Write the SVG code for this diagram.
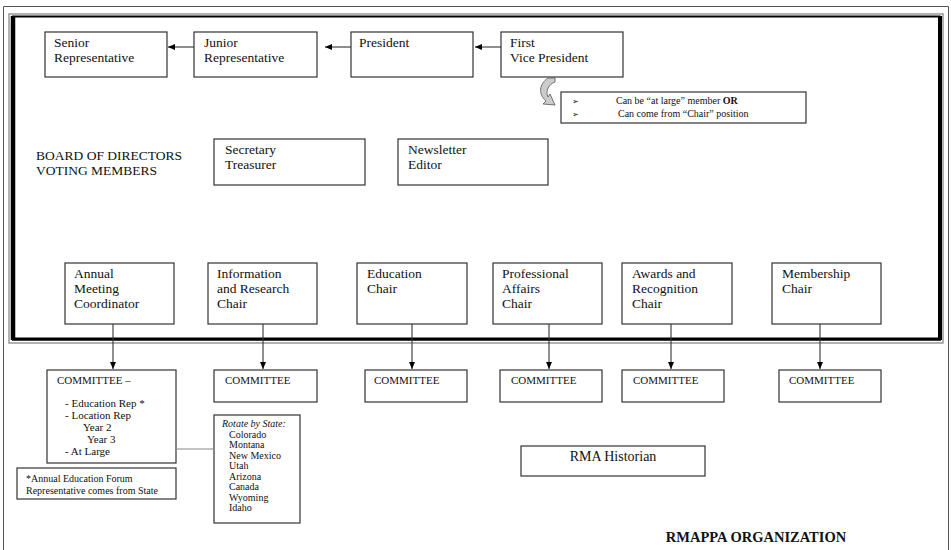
<svg xmlns="http://www.w3.org/2000/svg" width="951" height="550" viewBox="0 0 951 550" font-family="'Liberation Serif', 'DejaVu Serif', serif">
<style>
text{font-family:'Liberation Serif','DejaVu Serif',serif;fill:#111}
.t{font-size:13.5px}
.c{font-size:11px}
.s{font-size:10px}
.n{font-size:10px}
.box{fill:#fff;stroke:#333;stroke-width:1.2}
.ln{stroke:#333;stroke-width:1.1;fill:none}
</style>
<defs>
<marker id="ah" markerWidth="8" markerHeight="8" refX="7" refY="4" orient="auto" markerUnits="userSpaceOnUse">
<path d="M0,1 L7,4 L0,7 Z" fill="#000"/>
</marker>
</defs>
<rect x="0" y="0" width="951" height="550" fill="#fff"/>
<path d="M3.5,552 V6.5 H948.5 V552" fill="none" stroke="#555" stroke-width="1"/>
<g id="frame">
<rect x="9" y="14" width="934" height="329" fill="none" stroke="#999" stroke-width="1.5"/>
<rect x="13" y="16.5" width="926.5" height="323" fill="none" stroke="#000" stroke-width="2"/>
<line x1="13" y1="16" x2="13" y2="340" stroke="#000" stroke-width="4.5"/>
<line x1="940" y1="16" x2="940" y2="340" stroke="#000" stroke-width="4"/>
<line x1="12" y1="339" x2="941" y2="339" stroke="#000" stroke-width="3"/>
</g>
<g id="senior"><rect class="box" x="45" y="32" width="122" height="45"/><text class="t" x="54" y="47">Senior</text><text class="t" x="54" y="62">Representative</text></g>
<g id="junior"><rect class="box" x="194" y="32" width="123" height="45"/><text class="t" x="204" y="47">Junior</text><text class="t" x="204" y="62">Representative</text></g>
<g id="president"><rect class="box" x="351" y="32" width="122" height="45"/><text class="t" x="359" y="47">President</text></g>
<g id="fvp"><rect class="box" x="501" y="32" width="122" height="45"/><text class="t" x="510" y="47">First</text><text class="t" x="510" y="62">Vice President</text></g>
<g id="note"><rect class="box" x="561" y="92" width="245" height="31"/>
<text x="572" y="104" style="font-family:'DejaVu Sans',sans-serif;font-size:8px">➢</text>
<text class="n" x="616" y="104">Can be “at large” member  <tspan font-weight="bold">OR</tspan></text>
<text x="572" y="117" style="font-family:'DejaVu Sans',sans-serif;font-size:8px">➢</text>
<text class="n" x="618" y="117">Can come from “Chair” position</text>
</g>
<g id="board"><text class="t" x="36" y="160">BOARD OF DIRECTORS</text><text class="t" x="36" y="174.5">VOTING MEMBERS</text></g>
<g id="secretary"><rect class="box" x="214" y="139" width="151" height="46"/><text class="t" x="225" y="154">Secretary</text><text class="t" x="225" y="168.5">Treasurer</text></g>
<g id="newsletter"><rect class="box" x="398" y="139" width="150" height="46"/><text class="t" x="408" y="154">Newsletter</text><text class="t" x="408" y="168.5">Editor</text></g>
<g id="annual"><rect class="box" x="65" y="263" width="109" height="61"/><text class="t" x="74" y="278">Annual</text><text class="t" x="74" y="293">Meeting</text><text class="t" x="74" y="308">Coordinator</text></g>
<g id="info"><rect class="box" x="208" y="263" width="109" height="61"/><text class="t" x="217" y="278">Information</text><text class="t" x="217" y="293">and Research</text><text class="t" x="217" y="308">Chair</text></g>
<g id="education"><rect class="box" x="357" y="263" width="110" height="61"/><text class="t" x="367" y="278">Education</text><text class="t" x="367" y="293">Chair</text></g>
<g id="professional"><rect class="box" x="493" y="263" width="109" height="61"/><text class="t" x="502" y="278">Professional</text><text class="t" x="502" y="293">Affairs</text><text class="t" x="502" y="308">Chair</text></g>
<g id="awards"><rect class="box" x="622" y="263" width="110" height="61"/><text class="t" x="632" y="278">Awards and</text><text class="t" x="632" y="293">Recognition</text><text class="t" x="632" y="308">Chair</text></g>
<g id="membership"><rect class="box" x="772" y="263" width="109" height="61"/><text class="t" x="782" y="278">Membership</text><text class="t" x="782" y="293">Chair</text></g>
<g id="committee-annual"><rect class="box" x="47" y="370" width="129" height="93"/>
<text class="c" x="57" y="384">COMMITTEE –</text>
<text class="c" x="65" y="407">- Education Rep *</text>
<text class="c" x="65" y="419">- Location Rep</text>
<text class="c" x="83" y="431">Year 2</text>
<text class="c" x="87" y="443">Year 3</text>
<text class="c" x="65" y="455">- At Large</text>
</g>
<g id="committee-info"><rect class="box" x="214" y="370" width="103" height="32"/><text class="c" x="225" y="384">COMMITTEE</text></g>
<g id="committee-education"><rect class="box" x="365" y="370" width="102" height="32"/><text class="c" x="374" y="384">COMMITTEE</text></g>
<g id="committee-professional"><rect class="box" x="500" y="370" width="102" height="32"/><text class="c" x="511" y="384">COMMITTEE</text></g>
<g id="committee-awards"><rect class="box" x="622" y="370" width="102" height="32"/><text class="c" x="633" y="384">COMMITTEE</text></g>
<g id="committee-membership"><rect class="box" x="779" y="370" width="102" height="32"/><text class="c" x="789" y="384">COMMITTEE</text></g>
<g id="footnote"><rect class="box" x="17" y="468" width="159" height="31"/><text class="s" x="26" y="482">*Annual Education Forum</text><text class="s" x="26" y="494">Representative comes from State</text></g>
<g id="rotate"><rect class="box" x="214" y="415" width="86" height="108"/>
<text class="s" x="222" y="427" font-style="italic">Rotate by State:</text>
<text class="s" x="229" y="437.5">Colorado</text>
<text class="s" x="229" y="448">Montana</text>
<text class="s" x="229" y="458.5">New Mexico</text>
<text class="s" x="229" y="469">Utah</text>
<text class="s" x="229" y="479.5">Arizona</text>
<text class="s" x="229" y="490">Canada</text>
<text class="s" x="229" y="500.5">Wyoming</text>
<text class="s" x="229" y="511">Idaho</text>
</g>
<g id="historian"><rect class="box" x="521" y="446" width="184" height="30"/><text class="t" x="613" y="461" text-anchor="middle" style="font-size:14px">RMA Historian</text></g>
<g id="title"><text x="756" y="542" text-anchor="middle" font-weight="bold" style="font-size:14.5px">RMAPPA ORGANIZATION</text></g>
<g id="connectors">
<line class="ln" x1="194" y1="47" x2="168" y2="47" marker-end="url(#ah)"/>
<line class="ln" x1="351" y1="47" x2="325" y2="47" marker-end="url(#ah)"/>
<line class="ln" x1="501" y1="47" x2="475" y2="47" marker-end="url(#ah)"/>
<line class="ln" x1="113" y1="324" x2="113" y2="369" marker-end="url(#ah)"/>
<line class="ln" x1="263" y1="324" x2="263" y2="369" marker-end="url(#ah)"/>
<line class="ln" x1="412" y1="324" x2="412" y2="369" marker-end="url(#ah)"/>
<line class="ln" x1="549" y1="324" x2="549" y2="369" marker-end="url(#ah)"/>
<line class="ln" x1="671" y1="324" x2="671" y2="369" marker-end="url(#ah)"/>
<line class="ln" x1="820" y1="324" x2="820" y2="369" marker-end="url(#ah)"/>
<line x1="176" y1="449" x2="214" y2="449" stroke="#888" stroke-width="1"/>
<path d="M548,78 L555,78 L555,82 C549,84 545,91 548,97 L550,94 L555,105 L543,104 L546,101 C538,94 539,84 548,78 Z" fill="#ccc" stroke="#555" stroke-width="0.8"/>
</g>
</svg>
